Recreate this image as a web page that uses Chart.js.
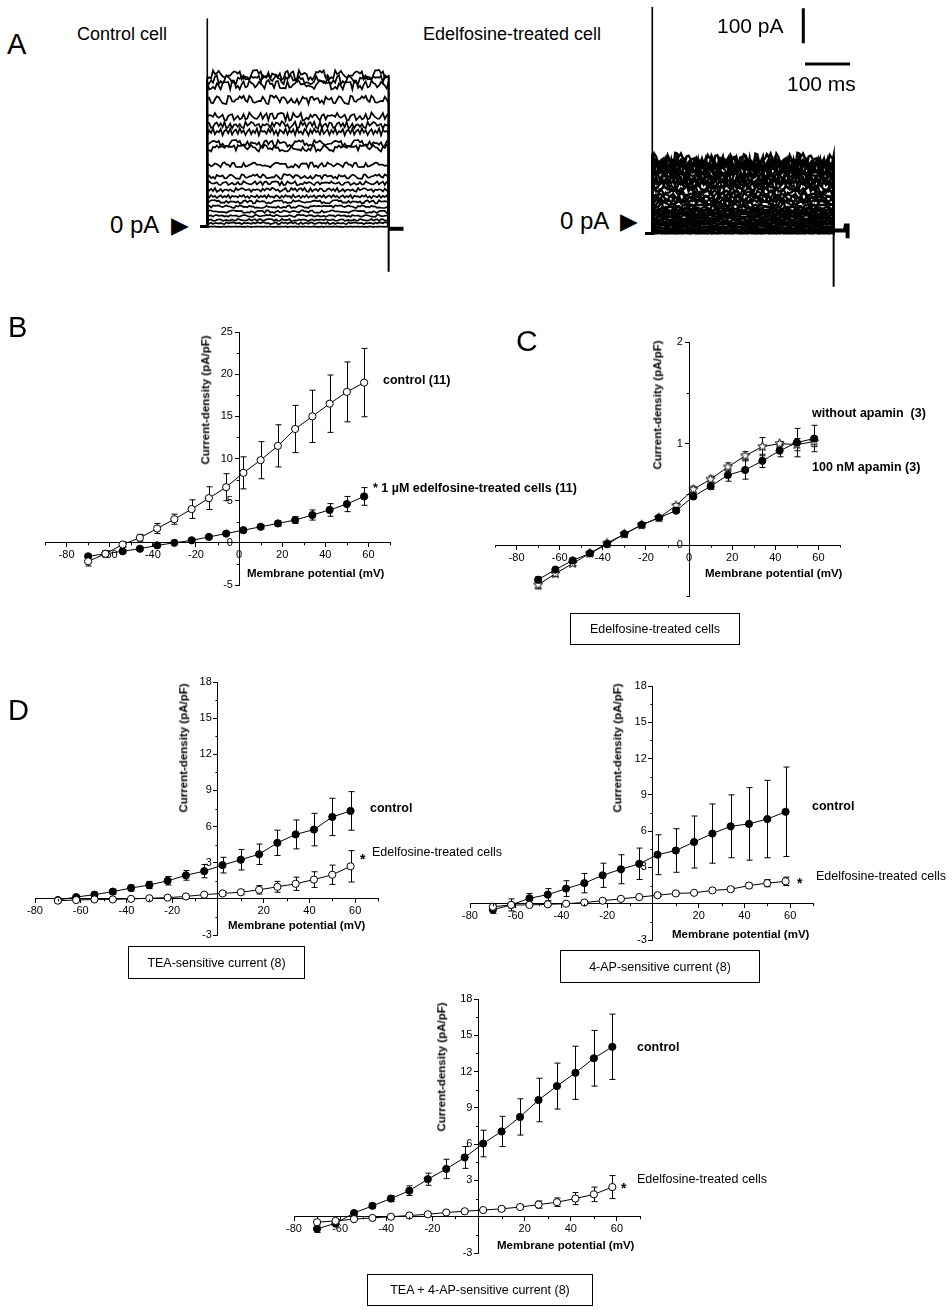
<!DOCTYPE html>
<html><head><meta charset="utf-8">
<script src="https://cdn.jsdelivr.net/npm/chart.js@4.4.1/dist/chart.umd.min.js"></script>
<style>
html,body{margin:0;padding:0;background:#fff;}
#fig{position:relative;width:952px;height:1313px;overflow:hidden;background:#fff;font-family:"Liberation Sans",Arial,sans-serif;color:#000;}
#fig canvas{position:absolute;}
.t{position:absolute;white-space:nowrap;line-height:1;transform:translateY(-50%);}
.b{font-weight:bold;}
.box{position:absolute;border:1.6px solid #000;box-sizing:border-box;display:flex;align-items:center;justify-content:center;font-size:12.5px;white-space:nowrap;}
.vt{position:absolute;white-space:nowrap;line-height:1;transform:translate(-50%,-50%) rotate(-90deg);font-weight:bold;font-size:11.5px;}
.tri{font-family:"DejaVu Sans",sans-serif;}
</style></head><body><div id="fig">
<canvas id="trCtrl"></canvas>
<canvas id="trEdel"></canvas>
<canvas id="cB"></canvas>
<canvas id="cC"></canvas>
<canvas id="cTEA"></canvas>
<canvas id="c4AP"></canvas>
<canvas id="cBoth"></canvas>

<div class="t" style="left:7px;top:44px;font-size:29px;">A</div>
<div class="t" style="left:77px;top:34px;font-size:18px;">Control cell</div>
<div class="t" style="left:423px;top:34px;font-size:18px;">Edelfosine-treated cell</div>
<div class="t" style="left:110px;top:225px;font-size:24px;">0 pA</div>
<div class="t tri" style="left:171px;top:225px;font-size:23px;">▶</div>
<div class="t" style="left:560px;top:221px;font-size:24px;">0 pA</div>
<div class="t tri" style="left:620px;top:221px;font-size:23px;">▶</div>
<div class="t" style="left:717px;top:25px;font-size:21px;">100 pA</div>
<div class="t" style="left:787px;top:83px;font-size:21px;">100 ms</div>

<div class="t" style="left:8px;top:327px;font-size:29px;">B</div>
<div class="vt" style="left:206px;top:400px;">Current-density (pA/pF)</div>
<div class="t b" style="left:247px;top:574px;font-size:11.5px;">Membrane potential (mV)</div>
<div class="t b" style="left:383px;top:380px;font-size:12.5px;">control (11)</div>
<div class="t b" style="left:373px;top:488px;font-size:12.5px;">* 1 µM edelfosine-treated cells (11)</div>

<div class="t" style="left:516px;top:341px;font-size:30px;">C</div>
<div class="vt" style="left:658px;top:405px;">Current-density (pA/pF)</div>
<div class="t b" style="left:705px;top:574px;font-size:11.5px;">Membrane potential (mV)</div>
<div class="t b" style="left:812px;top:413px;font-size:12.5px;">without apamin&nbsp; (3)</div>
<div class="t b" style="left:812px;top:467px;font-size:12.5px;">100 nM apamin (3)</div>
<div class="box" style="left:570px;top:613px;width:170px;height:32px;">Edelfosine-treated cells</div>

<div class="t" style="left:8px;top:710px;font-size:29px;">D</div>
<div class="vt" style="left:184px;top:748px;">Current-density (pA/pF)</div>
<div class="t b" style="left:228px;top:926px;font-size:11.5px;">Membrane potential (mV)</div>
<div class="t b" style="left:370px;top:808px;font-size:12.5px;">control</div>
<div class="t b" style="left:360px;top:859px;font-size:14px;">*</div>
<div class="t" style="left:372px;top:852px;font-size:12.5px;">Edelfosine-treated cells</div>
<div class="box" style="left:128px;top:946px;width:177px;height:33px;">TEA-sensitive current (8)</div>

<div class="vt" style="left:618px;top:748px;">Current-density (pA/pF)</div>
<div class="t b" style="left:672px;top:935px;font-size:11.5px;">Membrane potential (mV)</div>
<div class="t b" style="left:812px;top:806px;font-size:12.5px;">control</div>
<div class="t b" style="left:797px;top:883px;font-size:14px;">*</div>
<div class="t" style="left:816px;top:876px;font-size:12.5px;">Edelfosine-treated cells</div>
<div class="box" style="left:560px;top:950px;width:200px;height:33px;">4-AP-sensitive current (8)</div>

<div class="vt" style="left:442px;top:1067px;">Current-density (pA/pF)</div>
<div class="t b" style="left:497px;top:1246px;font-size:11.5px;">Membrane potential (mV)</div>
<div class="t b" style="left:637px;top:1047px;font-size:12.5px;">control</div>
<div class="t b" style="left:621px;top:1188px;font-size:14px;">*</div>
<div class="t" style="left:637px;top:1179px;font-size:12.5px;">Edelfosine-treated cells</div>
<div class="box" style="left:367px;top:1274px;width:226px;height:32px;">TEA + 4-AP-sensitive current (8)</div>
</div>
<script>
// ---------------- DATA ----------------
const voltages = [-70,-62,-54,-46,-38,-30,-22,-14,-6,2,10,18,26,34,42,50,58];

// Panel B
const bControl    = [-2.2,-1.3,-0.2,0.6,1.7,2.8,4.0,5.3,6.6,8.3,9.8,11.5,13.5,15.0,16.5,17.9,19.0];
const bControlErr = [0.55,0.4,0.3,0.4,0.6,0.6,1.1,1.35,1.6,1.9,2.2,2.5,2.8,3.1,3.4,3.55,4.05];
const bEdel       = [-1.6,-1.3,-1.0,-0.7,-0.3,0.0,0.3,0.7,1.1,1.5,1.9,2.3,2.7,3.3,3.9,4.6,5.5];
const bEdelErr    = [0.2,0.2,0.2,0.2,0.2,0.2,0.2,0.2,0.2,0.2,0.25,0.3,0.4,0.6,0.75,0.9,1.05];

// Panel C
const cWithout    = [-0.39,-0.28,-0.18,-0.08,0.02,0.11,0.2,0.27,0.39,0.55,0.65,0.77,0.88,0.97,1.0,0.99,1.02];
const cWithoutErr = [0.04,0.03,0.02,0.02,0.02,0.02,0.02,0.02,0.02,0.03,0.03,0.04,0.04,0.09,0.02,0.06,0.05];
const cApamin     = [-0.34,-0.24,-0.15,-0.08,0.01,0.11,0.2,0.27,0.34,0.48,0.58,0.69,0.74,0.83,0.93,1.01,1.05];
const cApaminErr  = [0.03,0.02,0.02,0.02,0.02,0.02,0.02,0.02,0.02,0.02,0.03,0.06,0.09,0.065,0.06,0.14,0.13];

// Panel D - TEA
const teaControl    = [-0.1,0.15,0.35,0.6,0.9,1.15,1.5,1.95,2.3,2.8,3.25,3.7,4.65,5.35,5.75,6.8,7.3];
const teaControlErr = [0.15,0.15,0.2,0.2,0.25,0.3,0.35,0.4,0.55,0.65,0.85,0.85,1.05,1.2,1.35,1.55,1.6];
const teaEdel       = [-0.15,-0.1,-0.05,-0.05,0,0.05,0.1,0.2,0.35,0.45,0.55,0.75,1.0,1.25,1.6,2.0,2.7];
const teaEdelErr    = [0.1,0.1,0.1,0.1,0.1,0.1,0.1,0.1,0.1,0.15,0.2,0.35,0.45,0.55,0.65,0.8,1.3];

// Panel D - 4-AP
const apControl    = [-0.5,-0.1,0.45,0.75,1.25,1.7,2.35,2.85,3.3,4.05,4.4,5.1,5.8,6.4,6.6,7.0,7.6];
const apControlErr = [0.3,0.5,0.4,0.5,0.65,0.8,1.0,1.2,1.3,1.65,1.8,2.15,2.45,2.6,3.0,3.2,3.7];
const apEdel       = [-0.25,-0.1,-0.1,-0.05,0,0.1,0.25,0.4,0.55,0.7,0.85,0.9,1.1,1.2,1.5,1.7,1.85];
const apEdelErr    = [0.2,0.15,0.1,0.1,0.1,0.1,0.1,0.1,0.1,0.1,0.1,0.1,0.1,0.15,0.2,0.3,0.35];

// Panel D - TEA + 4-AP
const bothControl    = [-1.0,-0.55,0.3,0.9,1.5,2.15,3.1,3.95,4.9,6.05,7.05,8.25,9.65,10.8,11.9,13.1,14.05];
const bothControlErr = [0.3,0.3,0.2,0.2,0.25,0.4,0.5,0.8,0.9,1.1,1.25,1.5,1.8,1.9,2.2,2.3,2.7];
const bothEdel       = [-0.45,-0.35,-0.2,-0.1,0,0.1,0.2,0.35,0.45,0.55,0.65,0.8,1.0,1.2,1.5,1.85,2.45];
const bothEdelErr    = [0.1,0.1,0.1,0.1,0.1,0.1,0.1,0.1,0.1,0.1,0.1,0.2,0.3,0.35,0.5,0.6,0.95];

// Tick values
const xTicksBC   = [-80,-60,-40,-20,0,20,40,60];
const xMinorBC   = [-90,-70,-50,-30,-10,10,30,50,70];
const yTicksB    = [-5,0,5,10,15,20,25];
const yMinorB    = [-2.5,2.5,7.5,12.5,17.5,22.5];
const yTicksC    = [0,1,2];
const yMinorC    = [-0.5,0.5,1.5];
const xTicksD    = [-80,-60,-40,-20,0,20,40,60];
const xMinorD    = [-70,-50,-30,-10,10,30,50,70];
const yTicksD    = [-3,0,3,6,9,12,15,18];
const yMinorD    = [-1.5,1.5,4.5,7.5,10.5,13.5,16.5];

// Panel A current traces (steady-state levels, pA) and noise amplitude (pA)
const ctrlLevels = [0,10,19,31,43,57,71,86,105,124,143,176,224,238,271,290,314,362,405,420,433];
const ctrlNoise  = [2,3,3,3,4,4,5,5,6,6,7,8,10,10,11,11,12,13,14,14,15];
const edelLevels = [0,4,8,12,16,20,24,28,32,36,40,44,48,52,56,60,64,68,72,78,85,92,100,108,115,124,130,137,145,152,160,167,174,180,186,192,197,203,209];
const edelNoise  = [2,2,2,2,3,3,3,3,3,4,4,4,4,4,5,5,5,5,6,7,8,8,9,9,10,10,11,11,12,12,13,13,14,14,15,16,17,19,21];
const noisePattern = [0.2,-0.5,0.7,-0.1,0.9,-0.6,0.3,-0.9,0.5,0.1,-0.4,0.8,-0.7,0.4,-0.2,0.6,
  -0.8,0.9,-0.3,0.1,-0.6,0.7,0.2,-0.9,0.5,-0.4,0.8,-0.1,0.3,-0.7,1.0,-0.5,
  0.1,0.6,-0.8,0.4,-0.3,0.9,-0.6,0.2,-0.1,0.7,-0.9,0.3,0.5,-0.4,0.8,-0.7,
  0.2,0.6,-0.5,0.9,-0.2,0.4,-0.8,0.1,0.7,-0.6,0.3,-0.3,0.9,-0.9,0.5,0.0];
const stepDuration = 403;   // ms
const ctrlTransient = [595, -129];  // pA peaks of capacitive transients
const edelTransient = [647, -153];
const scaleBarPA = 100, scaleBarMS = 100;

// ---------------- HELPERS ----------------
Chart.defaults.font.family = '"Liberation Sans", Arial, sans-serif';
Chart.defaults.color = '#000';

const errorBars = {
  id: 'errorBars',
  beforeDatasetsDraw(chart) {
    const ctx = chart.ctx, xs = chart.scales.x, ys = chart.scales.y;
    ctx.save(); ctx.strokeStyle = '#000'; ctx.lineWidth = 1;
    chart.data.datasets.forEach(ds => {
      if (!ds.errors) return;
      ds.data.forEach((p, i) => {
        const e = ds.errors[i]; if (!e) return;
        const px = Math.round(xs.getPixelForValue(p.x)) + 0.5;
        const y1 = ys.getPixelForValue(p.y + e), y2 = ys.getPixelForValue(p.y - e);
        ctx.beginPath();
        ctx.moveTo(px, y1); ctx.lineTo(px, y2);
        ctx.moveTo(px - 3, y1); ctx.lineTo(px + 3, y1);
        ctx.moveTo(px - 3, y2); ctx.lineTo(px + 3, y2);
        ctx.stroke();
      });
    });
    ctx.restore();
  }
};

const minorTicks = {
  id: 'minorTicks',
  afterDraw(chart, args, opts) {
    if (!opts || !opts.x) return;
    const ctx = chart.ctx, xs = chart.scales.x, ys = chart.scales.y;
    const ax = xs.getPixelForValue(0), ay = ys.getPixelForValue(0);
    ctx.save(); ctx.strokeStyle = '#000'; ctx.lineWidth = 1;
    ctx.beginPath();
    opts.x.forEach(v => { const p = Math.round(xs.getPixelForValue(v)) + 0.5; ctx.moveTo(p, ay); ctx.lineTo(p, ay + 2.5); });
    opts.y.forEach(v => { const p = Math.round(ys.getPixelForValue(v)) + 0.5; ctx.moveTo(ax, p); ctx.lineTo(ax - 2.5, p); });
    ctx.stroke(); ctx.restore();
  }
};

function makeStar(r) {
  const s = Math.ceil(r * 2 + 3);
  const c = document.createElement('canvas'); c.width = s; c.height = s;
  const g = c.getContext('2d'); g.translate(s / 2, s / 2);
  g.beginPath();
  for (let k = 0; k < 10; k++) {
    const rr = k % 2 ? r * 0.45 : r; const a = -Math.PI / 2 + k * Math.PI / 5;
    g.lineTo(rr * Math.cos(a), rr * Math.sin(a));
  }
  g.closePath(); g.fillStyle = '#fff'; g.fill(); g.lineWidth = 1; g.strokeStyle = '#000'; g.stroke();
  return c;
}
const starImg = makeStar(4.8);

function series(ys, errs, filled, style) {
  return {
    data: voltages.map((v, i) => ({ x: v, y: ys[i] })),
    errors: errs,
    showLine: true, borderColor: '#000', borderWidth: 1, tension: 0,
    pointRadius: 3.6, pointStyle: style || 'circle',
    pointBackgroundColor: filled ? '#000' : '#fff', pointBorderColor: '#000', pointBorderWidth: 1,
    clip: false
  };
}

const PAD = 24;
function ivChart(id, area, cfg) {
  const cv = document.getElementById(id);
  cv.width = area.w + 2 * PAD; cv.height = area.h + 2 * PAD;
  cv.style.left = (area.left - PAD) + 'px'; cv.style.top = (area.top - PAD) + 'px';
  const labX = v => (cfg.hideZero && v === 0) ? '' : String(v);
  const labY = v => (cfg.hideZero && v === 0) ? '' : String(v) + '  ';
  const tickFont = { family: '"Liberation Sans", Arial, sans-serif', size: 11 };
  new Chart(cv, {
    type: 'scatter',
    data: { datasets: cfg.datasets },
    options: {
      responsive: false, animation: false, devicePixelRatio: 1, events: [],
      layout: { padding: PAD },
      plugins: { legend: { display: false }, tooltip: { enabled: false }, minorTicks: { x: cfg.xMinor, y: cfg.yMinor } },
      scales: {
        x: {
          type: 'linear', min: cfg.xMin, max: cfg.xMax, position: { y: 0 },
          afterBuildTicks: s => { s.ticks = cfg.xTicks.map(v => ({ value: v })); },
          ticks: { callback: labX, font: tickFont, color: '#000', padding: 2, autoSkip: false, maxRotation: 0 },
          grid: { display: true, drawOnChartArea: false, drawTicks: true, tickLength: 4, color: '#000' },
          border: { display: true, color: '#000', width: 1 }
        },
        y: {
          type: 'linear', min: cfg.yMin, max: cfg.yMax, position: { x: 0 },
          afterBuildTicks: s => { s.ticks = cfg.yTicks.map(v => ({ value: v })); },
          ticks: { callback: labY, font: tickFont, color: '#000', padding: 2, autoSkip: false },
          grid: { display: true, drawOnChartArea: false, drawTicks: true, tickLength: 4, color: '#000' },
          border: { display: true, color: '#000', width: 1 }
        }
      }
    },
    plugins: [errorBars, minorTicks]
  });
}

// ---------------- IV CHARTS ----------------
ivChart('cB', { left: 45, top: 332, w: 345, h: 253 }, {
  xMin: -90, xMax: 70, yMin: -5, yMax: 25, xTicks: xTicksBC, xMinor: xMinorBC, yTicks: yTicksB, yMinor: yMinorB,
  datasets: [series(bControl, bControlErr, false), series(bEdel, bEdelErr, true)]
});
ivChart('cC', { left: 495, top: 342, w: 345, h: 254 }, {
  xMin: -90, xMax: 70, yMin: -0.5, yMax: 2, xTicks: xTicksBC, xMinor: xMinorBC, yTicks: yTicksC, yMinor: yMinorC,
  datasets: [series(cApamin, cApaminErr, true), series(cWithout, cWithoutErr, false, starImg)]
});
ivChart('cTEA', { left: 35, top: 682, w: 343, h: 253 }, {
  xMin: -80, xMax: 70, yMin: -3, yMax: 18, xTicks: xTicksD, xMinor: xMinorD, yTicks: yTicksD, yMinor: yMinorD, hideZero: true,
  datasets: [series(teaEdel, teaEdelErr, false), series(teaControl, teaControlErr, true)]
});
ivChart('c4AP', { left: 470, top: 686, w: 343, h: 254 }, {
  xMin: -80, xMax: 70, yMin: -3, yMax: 18, xTicks: xTicksD, xMinor: xMinorD, yTicks: yTicksD, yMinor: yMinorD, hideZero: true,
  datasets: [series(apEdel, apEdelErr, false), series(apControl, apControlErr, true)]
});
ivChart('cBoth', { left: 294, top: 999, w: 346, h: 254 }, {
  xMin: -80, xMax: 70, yMin: -3, yMax: 18, xTicks: xTicksD, xMinor: xMinorD, yTicks: yTicksD, yMinor: yMinorD, hideZero: true,
  datasets: [series(bothEdel, bothEdelErr, false), series(bothControl, bothControlErr, true)]
});

// ---------------- CURRENT TRACES ----------------
const strides = [1, 3, 5, 7, 9, 11, 13];
function traceSets(levels, noise, lw, transient, tail) {
  const n = noisePattern.length, samples = 96;
  const sets = levels.map((L, i) => {
    const st = strides[i % strides.length];
    const pts = [{ x: -16, y: 0 }, { x: 0, y: 0 }];
    for (let k = 0; k < samples; k++) {
      const t = (k / (samples - 1)) * stepDuration;
      const nz = noisePattern[(k * st + 7 * i) % n] * noise[i] * (L === 0 ? 0.5 : 1);
      pts.push({ x: t, y: L + nz });
    }
    pts.push({ x: stepDuration, y: 0 });
    return { data: pts, showLine: true, borderColor: '#000', borderWidth: lw, pointRadius: 0, tension: 0, clip: false };
  });
  sets.push({ data: [{ x: 0, y: 0 }, { x: 0, y: transient[0] }], showLine: true, borderColor: '#000', borderWidth: 1.6, pointRadius: 0, clip: false });
  sets.push({ data: [{ x: stepDuration, y: 0 }, { x: stepDuration, y: transient[1] }], showLine: true, borderColor: '#000', borderWidth: 2, pointRadius: 0, clip: false });
  sets.push({ data: tail, showLine: true, borderColor: '#000', borderWidth: 4, pointRadius: 0, clip: false });
  return sets;
}

const scaleBars = {
  id: 'scaleBars',
  afterDraw(chart, args, opts) {
    if (!opts || !opts.show) return;
    const ctx = chart.ctx, xs = chart.scales.x, ys = chart.scales.y;
    ctx.save(); ctx.strokeStyle = '#000'; ctx.lineWidth = 3;
    ctx.beginPath();
    const vx = xs.getPixelForValue(opts.vx);
    ctx.moveTo(vx, ys.getPixelForValue(opts.vy)); ctx.lineTo(vx, ys.getPixelForValue(opts.vy + scaleBarPA));
    const hy = ys.getPixelForValue(opts.hy);
    ctx.moveTo(xs.getPixelForValue(opts.hx), hy); ctx.lineTo(xs.getPixelForValue(opts.hx + scaleBarMS), hy);
    ctx.stroke(); ctx.restore();
  }
};

function traceChart(id, left, top, w, h, xMin, xMax, yMin, yMax, datasets, bars) {
  const cv = document.getElementById(id);
  cv.width = w; cv.height = h; cv.style.left = left + 'px'; cv.style.top = top + 'px';
  new Chart(cv, {
    type: 'scatter',
    data: { datasets },
    options: {
      responsive: false, animation: false, devicePixelRatio: 1, events: [],
      layout: { padding: 0 },
      plugins: { legend: { display: false }, tooltip: { enabled: false }, scaleBars: bars || { show: false } },
      scales: {
        x: { type: 'linear', min: xMin, max: xMax, display: false },
        y: { type: 'linear', min: yMin, max: yMax, display: false }
      }
    },
    plugins: [scaleBars]
  });
}

traceChart('trCtrl', 200, 10, 220, 270, -16.2, 472.7, -152.3, 619.1,
  traceSets(ctrlLevels, ctrlNoise, 1.7, ctrlTransient,
    [{ x: stepDuration, y: -6 }, { x: 436, y: -6 }]));
traceChart('trEdel', 645, 0, 220, 295, -16.2, 472.7, -176.3, 666.6,
  traceSets(edelLevels, edelNoise, 2.3, edelTransient,
    [{ x: stepDuration, y: 8 }, { x: 428, y: 8 }, { x: 430, y: 22 }, { x: 434, y: 22 }, { x: 434, y: -14 }]),
  { show: true, vx: 335.6, vy: 543, hx: 339.4, hy: 483.7 });
</script>
</body></html>
